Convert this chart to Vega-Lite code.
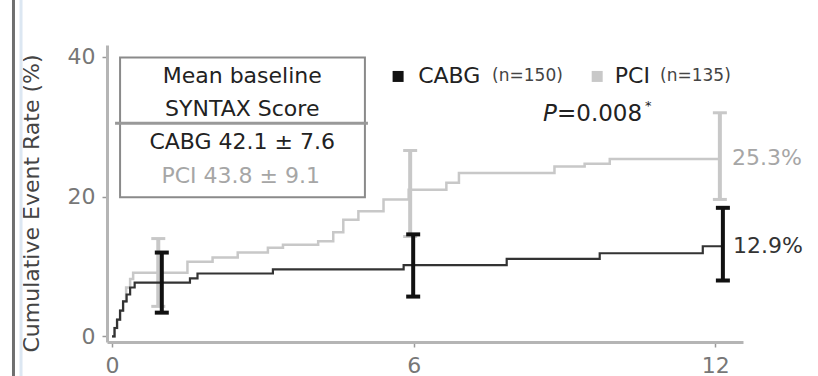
{
  "$schema": "https://vega.github.io/schema/vega-lite/v6.json",
  "width": 636,
  "height": 297,
  "autosize": {"type": "none"},
  "padding": {"left": 107, "top": 45, "right": 75, "bottom": 34},
  "background": "white",
  "config": {"view": {"stroke": null}, "font": "DejaVu Sans"},
  "datasets": {
    "curves": [
      {"group": "CABG", "month": 0, "rate": 0},
      {"group": "CABG", "month": 0.05, "rate": 1.2},
      {"group": "CABG", "month": 0.1, "rate": 2.4},
      {"group": "CABG", "month": 0.16, "rate": 3.7},
      {"group": "CABG", "month": 0.22, "rate": 5.0},
      {"group": "CABG", "month": 0.29, "rate": 6.0},
      {"group": "CABG", "month": 0.36, "rate": 7.0},
      {"group": "CABG", "month": 0.45, "rate": 7.7},
      {"group": "CABG", "month": 1.55, "rate": 8.3},
      {"group": "CABG", "month": 1.7, "rate": 9.0},
      {"group": "CABG", "month": 3.2, "rate": 9.6},
      {"group": "CABG", "month": 5.8, "rate": 10.2},
      {"group": "CABG", "month": 7.85, "rate": 11.1},
      {"group": "CABG", "month": 9.7, "rate": 11.9},
      {"group": "CABG", "month": 11.75, "rate": 12.9},
      {"group": "CABG", "month": 12.15, "rate": 12.9},
      {"group": "PCI", "month": 0, "rate": 0},
      {"group": "PCI", "month": 0.05, "rate": 1.2},
      {"group": "PCI", "month": 0.1, "rate": 2.4},
      {"group": "PCI", "month": 0.16, "rate": 3.7},
      {"group": "PCI", "month": 0.22, "rate": 5.0},
      {"group": "PCI", "month": 0.28, "rate": 7.0},
      {"group": "PCI", "month": 0.36, "rate": 8.2},
      {"group": "PCI", "month": 0.42, "rate": 9.1},
      {"group": "PCI", "month": 1.5, "rate": 10.7},
      {"group": "PCI", "month": 2.0, "rate": 11.3},
      {"group": "PCI", "month": 2.5, "rate": 12.0},
      {"group": "PCI", "month": 3.1, "rate": 12.7},
      {"group": "PCI", "month": 3.4, "rate": 13.1},
      {"group": "PCI", "month": 4.1, "rate": 13.6},
      {"group": "PCI", "month": 4.4, "rate": 14.9},
      {"group": "PCI", "month": 4.6, "rate": 16.7},
      {"group": "PCI", "month": 4.9, "rate": 17.9},
      {"group": "PCI", "month": 5.4, "rate": 19.6},
      {"group": "PCI", "month": 5.9, "rate": 21.0},
      {"group": "PCI", "month": 6.65, "rate": 22.0},
      {"group": "PCI", "month": 6.9, "rate": 23.4},
      {"group": "PCI", "month": 8.8, "rate": 24.3},
      {"group": "PCI", "month": 9.4, "rate": 24.7},
      {"group": "PCI", "month": 9.9, "rate": 25.4},
      {"group": "PCI", "month": 12.1, "rate": 25.4}
    ],
    "bars": [
      {"group": "PCI", "month": 0.92, "lo": 4.3, "hi": 14.0},
      {"group": "PCI", "month": 5.93, "lo": 14.3, "hi": 26.6},
      {"group": "PCI", "month": 12.09, "lo": 19.6, "hi": 32.0},
      {"group": "CABG", "month": 0.99, "lo": 3.4, "hi": 12.0},
      {"group": "CABG", "month": 5.99, "lo": 5.7, "hi": 14.6},
      {"group": "CABG", "month": 12.15, "lo": 8.0, "hi": 18.4}
    ]
  },
  "layer": [
    {
      "data": {"name": "curves"},
      "transform": [{"filter": "datum.group === 'PCI'"}],
      "mark": {"type": "line", "interpolate": "step-after", "color": "#c8c8c8", "strokeWidth": 2.5},
      "encoding": {
        "x": {
          "field": "month", "type": "quantitative",
          "scale": {"domain": [-0.1, 12.55], "nice": false, "zero": false},
          "axis": {
            "title": null, "values": [0, 6, 12], "grid": false,
            "domainColor": "#b5b5b5", "domainWidth": 3,
            "tickColor": "#999999", "tickWidth": 1.5, "tickSize": 5,
            "labelFontSize": 22, "labelColor": "#777777", "labelPadding": 8, "labelFont": "DejaVu Sans"
          }
        },
        "y": {
          "field": "rate", "type": "quantitative",
          "scale": {"domain": [-0.8, 41.7], "nice": false, "zero": false},
          "axis": {
            "title": "Cumulative Event Rate (%)", "values": [0, 20, 40], "grid": false,
            "domainColor": "#b5b5b5", "domainWidth": 3,
            "tickColor": "#999999", "tickWidth": 1.5, "tickSize": 5,
            "labelFontSize": 22, "labelColor": "#777777", "labelPadding": 7, "labelFont": "DejaVu Sans",
            "titleFont": "DejaVu Sans", "titleFontSize": 22, "titleFontWeight": "normal",
            "titleColor": "#444444", "titlePadding": 24, "titleY": 158
          }
        }
      }
    },
    {
      "data": {"name": "bars"},
      "transform": [{"filter": "datum.group === 'PCI'"}],
      "mark": {"type": "rule", "color": "#c8c8c8", "strokeWidth": 4},
      "encoding": {
        "x": {"field": "month", "type": "quantitative"},
        "y": {"field": "lo", "type": "quantitative"},
        "y2": {"field": "hi"}
      }
    },
    {
      "data": {"name": "bars"},
      "transform": [{"filter": "datum.group === 'PCI'"}],
      "mark": {"type": "tick", "orient": "horizontal", "color": "#c8c8c8", "size": 14, "thickness": 3, "opacity": 1},
      "encoding": {
        "x": {"field": "month", "type": "quantitative"},
        "y": {"field": "lo", "type": "quantitative"}
      }
    },
    {
      "data": {"name": "bars"},
      "transform": [{"filter": "datum.group === 'PCI'"}],
      "mark": {"type": "tick", "orient": "horizontal", "color": "#c8c8c8", "size": 14, "thickness": 3, "opacity": 1},
      "encoding": {
        "x": {"field": "month", "type": "quantitative"},
        "y": {"field": "hi", "type": "quantitative"}
      }
    },
    {
      "data": {"name": "curves"},
      "transform": [{"filter": "datum.group === 'CABG'"}],
      "mark": {"type": "line", "interpolate": "step-after", "color": "#333333", "strokeWidth": 2.2},
      "encoding": {
        "x": {"field": "month", "type": "quantitative"},
        "y": {"field": "rate", "type": "quantitative"}
      }
    },
    {
      "data": {"name": "bars"},
      "transform": [{"filter": "datum.group === 'CABG'"}],
      "mark": {"type": "rule", "color": "#111111", "strokeWidth": 4},
      "encoding": {
        "x": {"field": "month", "type": "quantitative"},
        "y": {"field": "lo", "type": "quantitative"},
        "y2": {"field": "hi"}
      }
    },
    {
      "data": {"name": "bars"},
      "transform": [{"filter": "datum.group === 'CABG'"}],
      "mark": {"type": "tick", "orient": "horizontal", "color": "#111111", "size": 14, "thickness": 4, "opacity": 1},
      "encoding": {
        "x": {"field": "month", "type": "quantitative"},
        "y": {"field": "lo", "type": "quantitative"}
      }
    },
    {
      "data": {"name": "bars"},
      "transform": [{"filter": "datum.group === 'CABG'"}],
      "mark": {"type": "tick", "orient": "horizontal", "color": "#111111", "size": 14, "thickness": 4, "opacity": 1},
      "encoding": {
        "x": {"field": "month", "type": "quantitative"},
        "y": {"field": "hi", "type": "quantitative"}
      }
    },
    {
      "data": {"values": [{"edge": "outer"}]},
      "mark": {"type": "rule", "color": "#6f6f6f", "strokeWidth": 3},
      "encoding": {
        "x": {"datum": -1.96, "type": "quantitative"},
        "y": {"datum": -5.7, "type": "quantitative"},
        "y2": {"datum": 48.2}
      }
    },
    {
      "data": {"values": [{"edge": "inner"}]},
      "mark": {"type": "rule", "color": "#dce7f2", "strokeWidth": 3},
      "encoding": {
        "x": {"datum": -1.81, "type": "quantitative"},
        "y": {"datum": -5.7, "type": "quantitative"},
        "y2": {"datum": 48.2}
      }
    },
    {
      "data": {"values": [{"box": "SYNTAX"}]},
      "mark": {"type": "rect", "fill": null, "fillOpacity": 0, "stroke": "#8a8a8a", "strokeWidth": 2},
      "encoding": {
        "x": {"datum": 0.16, "type": "quantitative"},
        "x2": {"datum": 5.03},
        "y": {"datum": 19.9, "type": "quantitative"},
        "y2": {"datum": 39.9}
      }
    },
    {
      "data": {"values": [{"box": "divider"}]},
      "mark": {"type": "rule", "color": "#999999", "strokeWidth": 3},
      "encoding": {
        "x": {"datum": 0.06, "type": "quantitative"},
        "x2": {"datum": 5.09},
        "y": {"datum": 30.5, "type": "quantitative"}
      }
    },
    {
      "data": {"values": [{"label": "Mean baseline"}]},
      "mark": {"type": "text", "fontSize": 22, "color": "#222222", "align": "center", "baseline": "middle"},
      "encoding": {"x": {"datum": 2.59, "type": "quantitative"}, "y": {"datum": 37.3, "type": "quantitative"}, "text": {"field": "label"}}
    },
    {
      "data": {"values": [{"label": "SYNTAX Score"}]},
      "mark": {"type": "text", "fontSize": 22, "color": "#222222", "align": "center", "baseline": "middle"},
      "encoding": {"x": {"datum": 2.59, "type": "quantitative"}, "y": {"datum": 32.6, "type": "quantitative"}, "text": {"field": "label"}}
    },
    {
      "data": {"values": [{"label": "CABG  42.1 ± 7.6"}]},
      "mark": {"type": "text", "fontSize": 22, "color": "#222222", "align": "center", "baseline": "middle"},
      "encoding": {"x": {"datum": 2.59, "type": "quantitative"}, "y": {"datum": 27.75, "type": "quantitative"}, "text": {"field": "label"}}
    },
    {
      "data": {"values": [{"label": "PCI 43.8 ± 9.1"}]},
      "mark": {"type": "text", "fontSize": 22, "color": "#a6a6a6", "align": "center", "baseline": "middle"},
      "encoding": {"x": {"datum": 2.56, "type": "quantitative"}, "y": {"datum": 22.9, "type": "quantitative"}, "text": {"field": "label"}}
    },
    {
      "data": {"values": [{"group": "CABG"}]},
      "mark": {"type": "point", "shape": "square", "filled": true, "size": 121, "color": "#111111", "opacity": 1},
      "encoding": {"x": {"datum": 5.69, "type": "quantitative"}, "y": {"datum": 37.2, "type": "quantitative"}}
    },
    {
      "data": {"values": [{"group": "PCI"}]},
      "mark": {"type": "point", "shape": "square", "filled": true, "size": 121, "color": "#c8c8c8", "opacity": 1},
      "encoding": {"x": {"datum": 9.65, "type": "quantitative"}, "y": {"datum": 37.2, "type": "quantitative"}}
    },
    {
      "data": {"values": [{"label": "CABG"}]},
      "mark": {"type": "text", "fontSize": 22, "color": "#222222", "align": "left", "baseline": "middle"},
      "encoding": {"x": {"datum": 6.09, "type": "quantitative"}, "y": {"datum": 37.3, "type": "quantitative"}, "text": {"field": "label"}}
    },
    {
      "data": {"values": [{"label": "(n=150)"}]},
      "mark": {"type": "text", "fontSize": 17, "color": "#444444", "align": "left", "baseline": "middle"},
      "encoding": {"x": {"datum": 7.56, "type": "quantitative"}, "y": {"datum": 37.2, "type": "quantitative"}, "text": {"field": "label"}}
    },
    {
      "data": {"values": [{"label": "PCI"}]},
      "mark": {"type": "text", "fontSize": 22, "color": "#222222", "align": "left", "baseline": "middle"},
      "encoding": {"x": {"datum": 10.0, "type": "quantitative"}, "y": {"datum": 37.3, "type": "quantitative"}, "text": {"field": "label"}}
    },
    {
      "data": {"values": [{"label": "(n=135)"}]},
      "mark": {"type": "text", "fontSize": 17, "color": "#444444", "align": "left", "baseline": "middle"},
      "encoding": {"x": {"datum": 10.9, "type": "quantitative"}, "y": {"datum": 37.2, "type": "quantitative"}, "text": {"field": "label"}}
    },
    {
      "data": {"values": [{"label": "P"}]},
      "mark": {"type": "text", "fontSize": 23, "fontStyle": "italic", "color": "#222222", "align": "left", "baseline": "middle"},
      "encoding": {"x": {"datum": 8.57, "type": "quantitative"}, "y": {"datum": 31.8, "type": "quantitative"}, "text": {"field": "label"}}
    },
    {
      "data": {"values": [{"label": "=0.008"}]},
      "mark": {"type": "text", "fontSize": 23, "color": "#222222", "align": "left", "baseline": "middle"},
      "encoding": {"x": {"datum": 8.85, "type": "quantitative"}, "y": {"datum": 31.8, "type": "quantitative"}, "text": {"field": "label"}}
    },
    {
      "data": {"values": [{"label": "*"}]},
      "mark": {"type": "text", "fontSize": 13, "color": "#222222", "align": "left", "baseline": "middle"},
      "encoding": {"x": {"datum": 10.6, "type": "quantitative"}, "y": {"datum": 32.9, "type": "quantitative"}, "text": {"field": "label"}}
    },
    {
      "data": {"values": [{"label": "25.3%"}]},
      "mark": {"type": "text", "fontSize": 22, "color": "#a6a6a6", "align": "left", "baseline": "middle"},
      "encoding": {"x": {"datum": 12.33, "type": "quantitative"}, "y": {"datum": 25.6, "type": "quantitative"}, "text": {"field": "label"}}
    },
    {
      "data": {"values": [{"label": "12.9%"}]},
      "mark": {"type": "text", "fontSize": 22, "color": "#333333", "align": "left", "baseline": "middle"},
      "encoding": {"x": {"datum": 12.35, "type": "quantitative"}, "y": {"datum": 12.9, "type": "quantitative"}, "text": {"field": "label"}}
    }
  ]
}
